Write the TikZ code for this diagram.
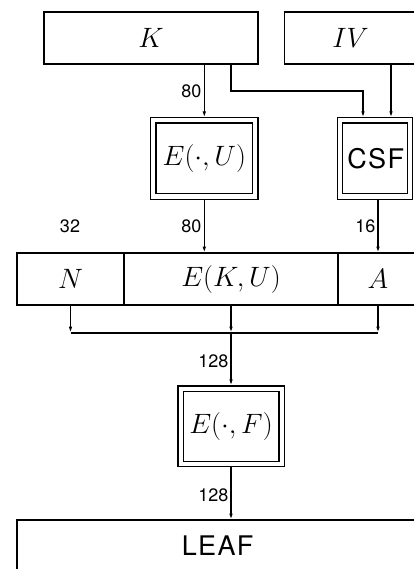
\RequirePackage{fix-cm}
\documentclass[tikz,border=0pt]{standalone}
\usepackage{fontspec}
\newfontfamily\hv{TeX Gyre Heros}
\newfontfamily\hvs[LetterSpace=5]{TeX Gyre Heros}
\usetikzlibrary{arrows.meta,calc}
\begin{document}
\begin{tikzpicture}[x=1pt,y=-1pt,
  line width=1.4pt,
  box/.style={draw,rectangle,inner sep=0pt,outer sep=0pt,
    font=\fontsize{28}{32}\selectfont},
  dbox/.style={draw,rectangle,inner sep=0pt,double,double distance=4pt,
    outer sep=2.7pt,font=\fontsize{28}{32}\selectfont},
  arr/.style={-{Latex[length=6.5pt,width=3.6pt]}},
  lbl/.style={anchor=east,inner sep=0pt,font=\hv\fontsize{18}{20}\selectfont},
  sf/.style={font=\hvs\fontsize{27}{30}\selectfont}]
\useasboundingbox (0,0) rectangle (414,569);
\clip (0,0) rectangle (414,569);
% top row
\node[box,minimum width=214pt,minimum height=52pt] (K) at (151,38) {$K$};
\node[box,minimum width=132pt,minimum height=52pt] (IV) at (350.5,38) {$IV$};
% double boxes
\node[dbox,minimum width=102pt,minimum height=76pt] (EU) at (204.3,158.5) {$E(\cdot,U)$};
\node[dbox,minimum width=70pt,minimum height=76pt,sf] (CSF) at (375,158.5) {CSF\kern-1.3pt};
% middle row
\node[box,minimum width=107pt,minimum height=52pt] (N) at (70.5,279) {$N$};
\node[box,minimum width=214pt,minimum height=52pt] (EKU) at (231,279) {$E(K,U)$};
\node[box,minimum width=80pt,minimum height=52pt] (A) at (378,279) {$A$};
% E(.,F)
\node[dbox,minimum width=101pt,minimum height=75.5pt] (EF) at (231,426.3) {$E(\cdot,F)$};
% LEAF
\node[box,minimum width=400pt,minimum height=52pt,sf] (LEAF) at (217,546) {LEAF\kern-1.3pt};
% connectors
\draw[arr] (EU.north |- K.south) -- (EU.north);
\draw[arr] ([xshift=80pt]K.south) -- ++(0,27) coordinate (kb) -| ([xshift=-12pt]CSF.north);
\draw[arr] ([xshift=16pt]CSF.north |- IV.south) -- ([xshift=16pt]CSF.north);
\draw[arr] (EU.south) -- (EU.south |- EKU.north);
\draw[arr] (A.north |- CSF.south) -- (A.north);
\coordinate (bus) at ($(EKU.south)+(0,28)$);
\draw[arr] (N.south) -- (N.south |- bus) coordinate (busL);
\draw[arr] (EKU.south) -- (bus);
\draw[arr] (A.south) -- (A.south |- bus) coordinate (busR);
\draw (busL) -- (busR);
\draw[arr] (bus) -- (EF.north);
\draw[arr] (EF.south) -- (EF.south |- LEAF.north);
% labels
\node[lbl] (l1) at (202,91) {80};
\node[lbl] (l2) at (202,226) {80};
\node[lbl,anchor=center] (l3) at (70,226) {32};
\node[lbl] (l4) at (376,226) {16};
\node[lbl] (l5) at (229,361) {128};
\node[lbl] (l6) at (229,495) {128};
\end{tikzpicture}
\end{document}
